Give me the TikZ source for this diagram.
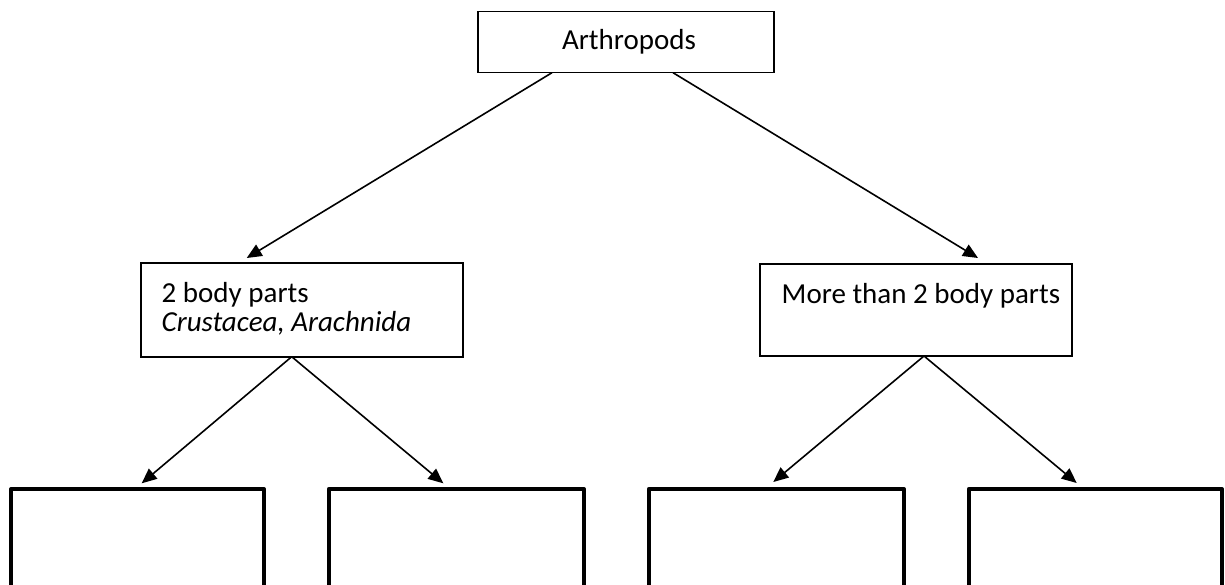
\documentclass[tikz,border=0pt]{standalone}
\usepackage{fontspec}
\setmainfont{Carlito}
\usetikzlibrary{arrows.meta}
\begin{document}
\begin{tikzpicture}[x=1pt,y=-1pt,
  thinbox/.style={draw, line width=1.6pt, inner sep=0pt, outer sep=0pt},
  thickbox/.style={draw, line width=4pt, inner sep=0pt, outer sep=0pt, line join=round},
  lbl/.style={inner sep=0pt, outer sep=0pt, anchor=base west, font=\fontsize{29}{32}\selectfont},
  arr/.style={line width=1.6pt, -{Triangle[length=15pt,width=13pt]}}]
\useasboundingbox (0,0) rectangle (1225,585);
\clip (0,0) rectangle (1225,585);
% boxes
\node[thinbox, minimum width=296pt, minimum height=61pt] (top) at (626,42.2) {};
\node[thinbox, minimum width=322.3pt, minimum height=93.7pt] (lm) at (301.85,309.85) {};
\node[thinbox, minimum width=312pt, minimum height=92pt] (rm) at (916,310) {};
\node[thickbox, minimum width=252.7pt, minimum height=111pt] (b1) at (137.65,544.5) {};
\node[thickbox, minimum width=255.3pt, minimum height=111pt] (b2) at (456.35,544.5) {};
\node[thickbox, minimum width=255.3pt, minimum height=111pt] (b3) at (776.35,544.5) {};
\node[thickbox, minimum width=253.3pt, minimum height=111pt] (b4) at (1095.35,544.5) {};
% texts
\node[lbl] (ttop) at (562,50) {Arthropods};
\node[lbl] (tl1) at (161.7,302) {2 body parts};
\node[lbl] (tl2) at (161.7,331.5) {\itshape Crustacea, Arachnida};
\node[lbl] (tr1) at (781.7,303) {More than 2 body parts};
% connectors
\draw[arr] ([xshift=-74pt]top.south) -- ([xshift=-55.15pt,yshift=5pt]lm.north);
\draw[arr] ([xshift=47pt]top.south) -- ([xshift=62pt,yshift=6pt]rm.north);
\draw[arr] ([xshift=-10.15pt]lm.south) -- ([xshift=4.05pt,yshift=5.7pt]b1.north);
\draw[arr] ([xshift=-10.15pt]lm.south) -- ([xshift=-13.05pt,yshift=5.7pt]b2.north);
\draw[arr] ([xshift=8pt]rm.south) -- ([xshift=-3.05pt,yshift=7pt]b3.north);
\draw[arr] ([xshift=8pt]rm.south) -- ([xshift=-18.65pt,yshift=6pt]b4.north);
\end{tikzpicture}
\end{document}
